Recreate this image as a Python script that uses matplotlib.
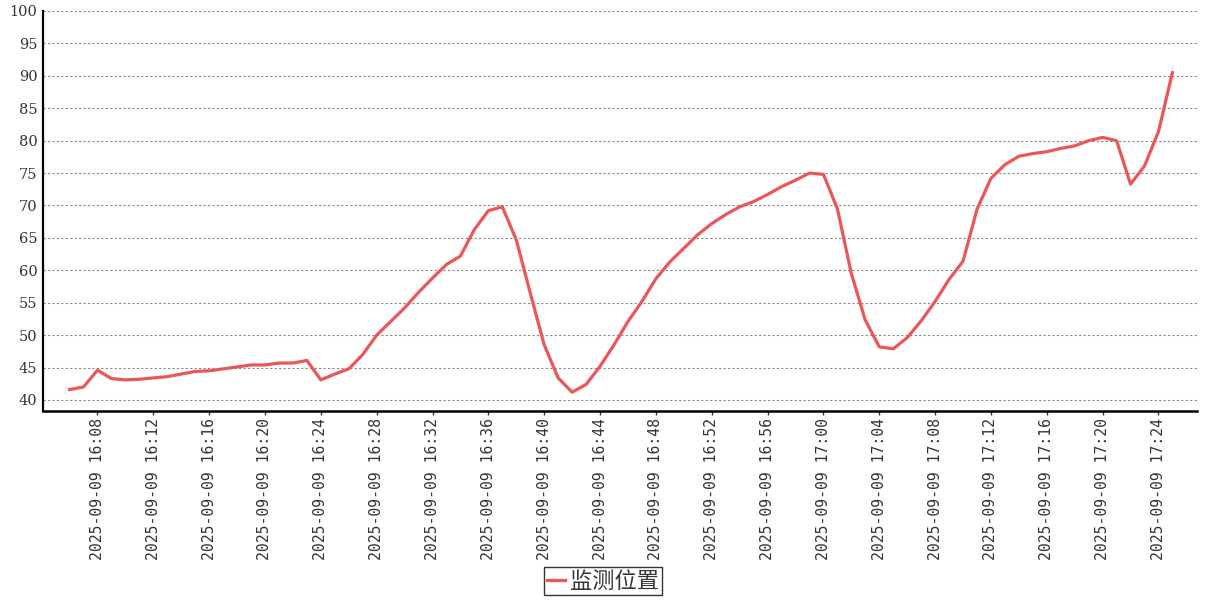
import numpy as np
import pandas as pd
import matplotlib
matplotlib.use("Agg")
import matplotlib.pyplot as plt
import matplotlib.dates as mdates

# one reading per minute, 2025-09-09 16:06 .. 17:25
times = pd.date_range("2025-09-09 16:06", periods=80, freq="min")
position = [
    41.6, 42.0, 44.6, 43.3, 43.1, 43.2, 43.4, 43.6, 44.0, 44.4,
    44.5, 44.8, 45.1, 45.4, 45.4, 45.7, 45.7, 46.1, 43.1, 44.0,
    44.8, 47.0, 50.0, 52.1, 54.2, 56.6, 58.8, 60.9, 62.2, 66.3,
    69.2, 69.8, 64.7, 56.5, 48.5, 43.4, 41.2, 42.4, 45.2, 48.5,
    52.1, 55.2, 58.7, 61.3, 63.4, 65.5, 67.2, 68.6, 69.8, 70.6,
    71.7, 72.9, 73.9, 75.0, 74.8, 69.5, 59.5, 52.3, 48.2, 47.9,
    49.6, 52.2, 55.2, 58.6, 61.4, 69.4, 74.2, 76.3, 77.6, 78.0,
    78.3, 78.8, 79.2, 80.0, 80.5, 80.0, 73.3, 76.1, 81.4, 90.5,
]
series_name = "监测位置"

fig = plt.figure(figsize=(12.07, 6.0), dpi=100)
ax = fig.add_axes([43 / 1207, 1 - 411 / 600, (1197 - 43) / 1207, 400 / 600])

ax.plot(times, position, color="#ec5656", linewidth=2.3, label=series_name)

ax.set_ylim(38.3, 100)
ax.set_yticks(np.arange(40, 101, 5))
ax.set_xlim(times[0] - pd.Timedelta(minutes=1.9), times[-1] + pd.Timedelta(minutes=1.76))

ax.xaxis.set_major_locator(mdates.MinuteLocator(byminute=range(0, 60, 4)))
ax.xaxis.set_major_formatter(mdates.DateFormatter("%Y-%m-%d %H:%M"))

for lab in ax.get_xticklabels():
    lab.set_rotation(90)
    lab.set_family("DejaVu Sans Mono")
    lab.set_fontsize(10.6)
    lab.set_color("#333333")
for lab in ax.get_yticklabels():
    lab.set_family("DejaVu Serif")
    lab.set_fontsize(10.5)
    lab.set_color("#333333")

ax.tick_params(axis="x", length=3, width=1, color="#333333", pad=2)
ax.tick_params(axis="y", length=0, pad=4)

ax.grid(axis="y", color="#888888", linestyle=(0, (2, 2)), linewidth=0.8)
ax.set_axisbelow(True)

for s in ["top", "right"]:
    ax.spines[s].set_visible(False)
ax.spines["left"].set_linewidth(1.6)
ax.spines["bottom"].set_linewidth(1.8)

leg = fig.legend(loc="center", bbox_to_anchor=(603 / 1207, 1 - 581 / 600),
                 prop={"family": ["Noto Sans CJK SC", "DejaVu Sans"], "size": 16},
                 fancybox=False, edgecolor="black", handlelength=0.8,
                 handletextpad=0.25, borderpad=0.12, borderaxespad=0)
leg.get_frame().set_linewidth(1.0)
for t in leg.get_texts():
    t.set_color("#333333")

fig.savefig("out.png", dpi=100)
